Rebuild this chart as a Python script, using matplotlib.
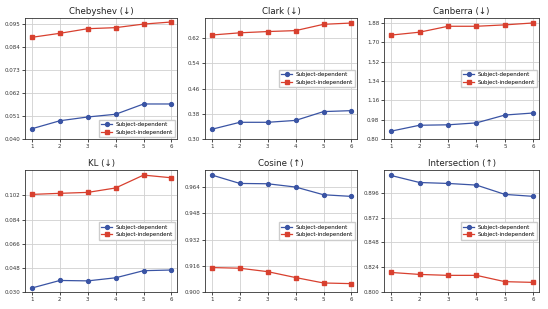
import matplotlib
matplotlib.use("Agg")
import matplotlib.pyplot as plt

x = [1, 2, 3, 4, 5, 6]
titles = ["Chebyshev (↓)", "Clark (↓)", "Canberra (↓)", "KL (↓)", "Cosine (↑)", "Intersection (↑)"]

cheb_dep = [0.0449, 0.0487, 0.0505, 0.0518, 0.0567, 0.0567]
cheb_ind = [0.0885, 0.0904, 0.0926, 0.0931, 0.0948, 0.0958]
clark_dep = [0.331, 0.353, 0.353, 0.359, 0.387, 0.390]
clark_ind = [0.630, 0.637, 0.641, 0.644, 0.664, 0.668]
canb_dep = [0.873, 0.928, 0.932, 0.950, 1.023, 1.042]
canb_ind = [1.767, 1.794, 1.849, 1.849, 1.862, 1.880]
kl_dep = [0.0330, 0.0386, 0.0383, 0.0406, 0.0459, 0.0464]
kl_ind = [0.1028, 0.1036, 0.1043, 0.1076, 0.1172, 0.1152]
cos_dep = [0.9713, 0.9662, 0.9660, 0.9640, 0.9593, 0.9583]
cos_ind = [0.9149, 0.9145, 0.9124, 0.9088, 0.9055, 0.9051]
inter_dep = [0.9127, 0.9059, 0.9050, 0.9034, 0.8944, 0.8925]
inter_ind = [0.8189, 0.8170, 0.8161, 0.8161, 0.8100, 0.8093]

yticks = [
    [0.040, 0.051, 0.062, 0.073, 0.084, 0.095],
    [0.30, 0.38, 0.46, 0.54, 0.62],
    [0.80, 0.98, 1.16, 1.34, 1.52, 1.70, 1.88],
    [0.030, 0.048, 0.066, 0.084, 0.102],
    [0.900, 0.916, 0.932, 0.948, 0.964],
    [0.800, 0.824, 0.848, 0.872, 0.896],
]
ytop = [0.0977, 0.684, 1.926, 0.121, 0.9744, 0.918]
fmts = ["%.3f", "%.2f", "%.2f", "%.3f", "%.3f", "%.3f"]
legend_loc = ["lower right", "center right", "center right", "center right", "center right", "center right"]

dep = [cheb_dep, clark_dep, canb_dep, kl_dep, cos_dep, inter_dep]
ind = [cheb_ind, clark_ind, canb_ind, kl_ind, cos_ind, inter_ind]

blue = "#3a54a4"
red = "#d8402f"

fig = plt.figure(figsize=(5.48, 3.09), dpi=100)
W, H = 548, 309
lefts = [25, 205, 384]
rights = [177, 357, 539]
tops = [18, 170]
bottoms = [139, 292]

for i in range(6):
    r, c = divmod(i, 3)
    l, rr = lefts[c], rights[c]
    t, b = tops[r], bottoms[r]
    ax = fig.add_axes([l / W, 1 - b / H, (rr - l) / W, (b - t) / H])
    ax.plot(x, dep[i], color=blue, marker="o", markersize=2.8, linewidth=0.9, label="Subject-dependent")
    ax.plot(x, ind[i], color=red, marker="s", markersize=2.8, linewidth=0.9, label="Subject-independent")
    ax.set_title(titles[i], fontsize=6.2, pad=3, color="#222222")
    ax.set_xticks(x)
    ax.set_yticks(yticks[i])
    ax.set_yticklabels([fmts[i] % v for v in yticks[i]])
    ax.set_ylim(yticks[i][0], ytop[i])
    ax.set_xlim(0.75, 6.2)
    ax.tick_params(labelsize=4, length=2, width=0.5, pad=1.5, labelcolor="#333333")
    ax.grid(True, color="#d0d0d0", linewidth=0.6)
    for s in ax.spines.values():
        s.set_linewidth(0.6)
        s.set_color("#333333")
    ax.legend(loc=legend_loc[i], fontsize=4, frameon=True, fancybox=False,
              edgecolor="#cccccc", framealpha=1, handlelength=2.0, borderpad=0.45,
              labelspacing=0.45, handletextpad=0.6, borderaxespad=0.3)

fig.savefig("out.png", dpi=100)
